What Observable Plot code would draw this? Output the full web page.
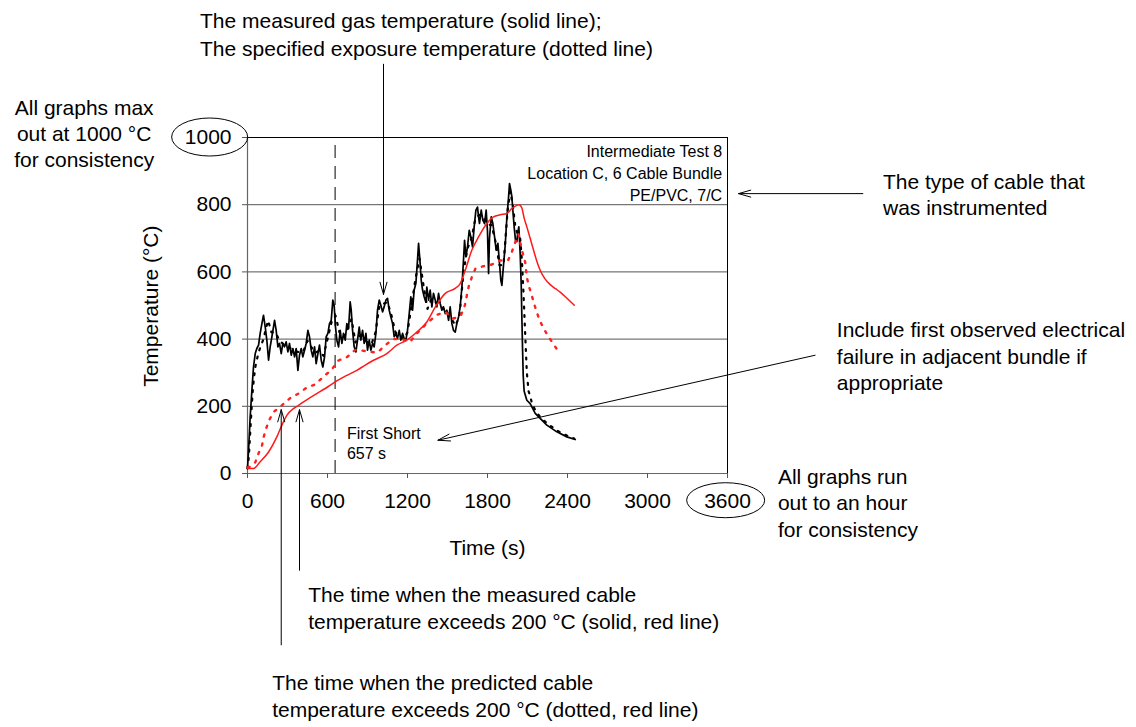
<!DOCTYPE html>
<html><head><meta charset="utf-8">
<script src="https://cdn.jsdelivr.net/npm/d3@7"></script>
<script src="https://cdn.jsdelivr.net/npm/@observablehq/plot@0.6"></script>
<style>body{margin:0;background:#fff} #chart svg{display:block}</style>
</head><body><div id="chart"></div>
<script>
// ---- data: [time (s), temperature (°C)] ----
const gasMeasured = [[0,15],[8,69],[20,168],[33,248],[45,317],[58,357],[70,372],[83,382],[95,417],[108,446],[120,471],[133,436],[145,397],[158,337],[170,377],[183,407],[195,436],[203,456],[215,426],[228,377],[240,387],[253,357],[265,387],[278,377],[290,392],[303,362],[315,387],[328,352],[340,372],[353,347],[365,372],[378,307],[390,352],[403,372],[415,347],[428,367],[440,387],[453,426],[465,407],[478,367],[490,347],[503,377],[515,327],[528,357],[540,382],[553,337],[565,317],[578,347],[590,407],[603,417],[615,446],[628,456],[640,516],[650,500],[660,436],[670,397],[683,377],[695,426],[708,387],[720,417],[733,397],[745,446],[758,431],[770,511],[778,486],[788,426],[800,377],[813,362],[825,397],[838,436],[850,397],[863,426],[875,387],[888,417],[900,367],[913,397],[925,367],[938,387],[950,377],[963,417],[975,486],[988,516],[1000,501],[1013,481],[1025,496],[1038,516],[1050,521],[1063,486],[1075,466],[1088,446],[1100,407],[1113,417],[1125,402],[1138,426],[1150,397],[1163,417],[1175,402],[1188,397],[1200,426],[1213,476],[1225,526],[1238,486],[1250,546],[1263,566],[1275,635],[1283,685],[1293,635],[1303,575],[1313,546],[1325,526],[1338,510],[1345,555],[1358,516],[1370,546],[1383,496],[1395,536],[1408,516],[1420,496],[1433,536],[1445,506],[1458,486],[1470,496],[1483,476],[1495,486],[1508,456],[1520,496],[1533,446],[1545,426],[1558,421],[1570,446],[1583,466],[1595,496],[1608,555],[1620,635],[1628,694],[1638,645],[1650,674],[1663,724],[1675,704],[1688,674],[1700,734],[1713,784],[1725,793],[1733,764],[1740,744],[1753,784],[1765,754],[1778,744],[1790,784],[1800,720],[1808,595],[1815,700],[1828,764],[1840,744],[1853,704],[1865,665],[1878,685],[1888,635],[1900,575],[1908,560],[1920,620],[1933,680],[1945,760],[1958,823],[1965,863],[1975,843],[1983,823],[1990,784],[2000,734],[2010,694],[2020,690],[2028,720],[2035,734],[2045,655],[2053,560],[2058,460],[2063,370],[2068,290],[2075,245],[2095,218],[2120,208],[2158,179],[2195,164],[2245,144],[2320,124],[2395,109],[2458,101]];

const exposureSpecified = [[0,15],[10,50],[20,120],[30,190],[40,250],[50,290],[60,320],[75,347],[95,375],[120,400],[140,435],[155,455],[180,420],[210,420],[240,395],[270,385],[300,380],[330,370],[360,365],[390,360],[420,365],[450,395],[480,375],[510,360],[540,365],[570,350],[600,400],[630,450],[660,470],[690,420],[720,405],[750,430],[780,460],[810,390],[840,410],[870,400],[900,390],[930,385],[960,420],[990,500],[1020,505],[1050,510],[1080,470],[1110,420],[1140,410],[1170,400],[1200,420],[1230,500],[1260,580],[1290,640],[1320,560],[1350,490],[1380,520],[1410,510],[1440,500],[1470,490],[1500,480],[1530,460],[1560,440],[1590,470],[1620,600],[1650,670],[1680,700],[1710,760],[1740,770],[1770,760],[1800,740],[1830,740],[1860,690],[1890,620],[1920,620],[1950,780],[1970,840],[1990,800],[2010,730],[2030,710],[2045,700],[2058,635],[2070,536],[2083,412],[2095,300],[2108,245],[2120,230],[2133,210],[2158,188],[2195,168],[2250,148],[2330,126],[2400,112],[2450,104]];

const cableMeasured = [[0,15],[45,15],[95,35],[158,64],[220,109],[258,144],[295,173],[345,193],[383,203],[458,223],[520,238],[583,253],[658,273],[745,292],[820,307],[880,322],[945,337],[1045,357],[1120,382],[1195,397],[1270,421],[1345,451],[1408,495],[1483,536],[1558,551],[1595,565],[1633,605],[1683,665],[1733,704],[1795,744],[1845,764],[1895,770],[1945,774],[1983,789],[2020,798],[2033,800],[2045,798],[2058,790],[2075,760],[2095,734],[2120,700],[2145,665],[2170,632],[2195,605],[2230,580],[2270,562],[2310,550],[2345,540],[2400,520],[2450,501]];

const cablePredicted = [[0,18],[20,20],[58,33],[83,60],[108,82],[120,107],[138,132],[163,159],[195,183],[258,203],[325,226],[383,238],[445,256],[508,265],[570,288],[633,310],[680,336],[745,346],[808,368],[858,366],[920,362],[975,360],[1033,382],[1095,400],[1158,400],[1220,392],[1258,412],[1353,450],[1420,472],[1483,481],[1545,461],[1600,470],[1630,500],[1645,530],[1660,558],[1683,585],[1710,610],[1770,617],[1833,622],[1895,634],[1955,635],[1983,660],[2008,688],[2033,712],[2045,689],[2058,665],[2083,628],[2095,585],[2108,560],[2128,536],[2145,511],[2165,486],[2188,459],[2215,436],[2253,410],[2295,385],[2340,358]];

const firstShortTime = 657;
const xTicks = [0, 600, 1200, 1800, 2400, 3000, 3600];
const yTicks = [0, 200, 400, 600, 800, 1000];
const gridValues = [200, 400, 600, 800];

const xLabel = "Time (s)";
const yLabel = "Temperature (°C)";
const testInfo = "Intermediate Test 8\nLocation C, 6 Cable Bundle\nPE/PVC, 7/C";
const shortNote = "First Short\n657 s";
const noteTop = "The measured gas temperature (solid line);\nThe specified exposure temperature (dotted line)";
const noteMax = "All graphs max\nout at 1000 °C\nfor consistency";
const noteCable = "The type of cable that\nwas instrumented";
const noteFailure = "Include first observed electrical\nfailure in adjacent bundle if\nappropriate";
const noteHour = "All graphs run\nout to an hour\nfor consistency";
const noteMeasured200 = "The time when the measured cable\ntemperature exceeds 200 °C (solid, red line)";
const notePredicted200 = "The time when the predicted cable\ntemperature exceeds 200 °C (dotted, red line)";

const toRows = a => a.map(([t, v]) => ({t, v}));
const FONT = "'Liberation Sans', Arial, Helvetica, sans-serif";
const arrowOpts = {stroke: "#000", strokeWidth: 1, headLength: 19, headAngle: 32};

const plot = Plot.plot({
  width: 1136, height: 727,
  marginLeft: 247, marginRight: 409, marginTop: 137, marginBottom: 254,
  style: {fontFamily: FONT, fontSize: "21px", background: "#fff", overflow: "visible", color: "#000"},
  x: {domain: [0, 3600]},
  y: {domain: [0, 1000]},
  marks: [
    Plot.ruleY(gridValues, {stroke: "#555", strokeWidth: 1}),
    Plot.ruleY([1000], {stroke: "#000", strokeWidth: 1}),
    Plot.ruleX([3600], {stroke: "#000", strokeWidth: 1}),
    Plot.ruleX([0], {stroke: "#666", strokeWidth: 1.2}),
    Plot.ruleY([0], {stroke: "#666", strokeWidth: 1.2}),
    Plot.ruleX([firstShortTime], {y1: 0, y2: 1000, stroke: "#000", strokeWidth: 1, strokeDasharray: "13,8"}),
    Plot.line(toRows(exposureSpecified), {x: "t", y: "v", stroke: "#000", strokeWidth: 2.2, strokeDasharray: "2,6.5"}),
    Plot.line(toRows(gasMeasured), {x: "t", y: "v", stroke: "#000", strokeWidth: 1.7, strokeLinejoin: "round"}),
    Plot.line(toRows(cablePredicted), {x: "t", y: "v", stroke: "#ff2020", strokeWidth: 2.4, strokeDasharray: "2.2,7"}),
    Plot.line(toRows(cableMeasured), {x: "t", y: "v", stroke: "#ff1a1a", strokeWidth: 1.5, curve: "monotone-x"}),
    Plot.axisX({ticks: xTicks, tickFormat: d => String(d), tickSize: 5, tickPadding: 15, stroke: "#555", fill: "#000", label: null}),
    Plot.axisY({ticks: yTicks, tickFormat: d => String(d), tickSize: 5, tickPadding: 11, stroke: "#555", fill: "#000", label: null}),
    Plot.text([xLabel], {x: 1800, y: -222, text: d => d, fontSize: 21}),
    Plot.text([yLabel], {x: -722, y: 498, text: d => d, fontSize: 21, rotate: -90}),
    Plot.text([testInfo], {x: 3560, y: 897, text: d => d, fontSize: 16, textAnchor: "end", lineAnchor: "middle", lineHeight: 1.36}),
    Plot.text([shortNote], {x: 746, y: 92, text: d => d, fontSize: 16, textAnchor: "start", lineAnchor: "middle", lineHeight: 1.22}),
    Plot.text([noteTop], {x: -356, y: 1312, text: d => d, fontSize: 21, textAnchor: "start", lineAnchor: "middle", lineHeight: 1.33}),
    Plot.text([noteMax], {x: -1225, y: 1014, text: d => d, fontSize: 21, textAnchor: "middle", lineAnchor: "middle", lineHeight: 1.24}),
    Plot.text([noteCable], {x: 4766, y: 833, text: d => d, fontSize: 21, textAnchor: "start", lineAnchor: "middle", lineHeight: 1.27}),
    Plot.text([noteFailure], {x: 4420, y: 352, text: d => d, fontSize: 21, textAnchor: "start", lineAnchor: "middle", lineHeight: 1.27}),
    Plot.text([noteHour], {x: 3978, y: -84.5, text: d => d, fontSize: 21, textAnchor: "start", lineAnchor: "middle", lineHeight: 1.27}),
    Plot.text([noteMeasured200], {x: 455, y: -396, text: d => d, fontSize: 21, textAnchor: "start", lineAnchor: "middle", lineHeight: 1.33}),
    Plot.text([notePredicted200], {x: 185, y: -658, text: d => d, fontSize: 21, textAnchor: "start", lineAnchor: "middle", lineHeight: 1.33}),
    Plot.arrow([0], {x1: 1020, y1: 1218, x2: 1020, y2: 533, ...arrowOpts}),
    Plot.arrow([0], {x1: 253, y1: -510, x2: 253, y2: 190, ...arrowOpts}),
    Plot.arrow([0], {x1: 390, y1: -288, x2: 390, y2: 190, ...arrowOpts}),
    Plot.arrow([0], {x1: 4615, y1: 833, x2: 3683, y2: 833, ...arrowOpts}),
    Plot.arrow([0], {x1: 4257, y1: 352, x2: 1428, y2: 99, ...arrowOpts})
  ]
});

const sx = plot.scale("x"), sy = plot.scale("y");
const svg = d3.select(plot);
svg.append("ellipse").attr("cx", sx.apply(-280)).attr("cy", sy.apply(1000)).attr("rx", 38).attr("ry", 19)
  .attr("fill", "none").attr("stroke", "#000").attr("stroke-width", 1);
svg.append("ellipse").attr("cx", sx.apply(3590)).attr("cy", sy.apply(-81)).attr("rx", 39).attr("ry", 17.5)
  .attr("fill", "none").attr("stroke", "#000").attr("stroke-width", 1);

document.getElementById("chart").appendChild(plot);
</script>
</body></html>
